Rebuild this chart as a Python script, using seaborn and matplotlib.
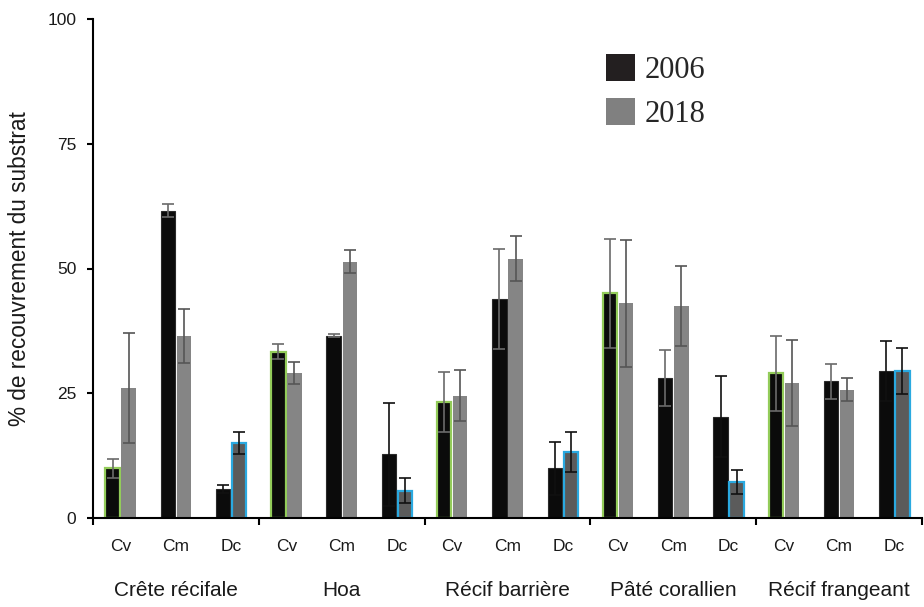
import matplotlib
matplotlib.use("Agg")
import matplotlib.pyplot as plt
from matplotlib.patches import Patch
import matplotlib.transforms as mtransforms
import numpy as np
import pandas as pd
import seaborn as sns

# Reef zones and benthic categories
sites = ["Crête récifale", "Hoa", "Récif barrière", "Pâté corallien", "Récif frangeant"]
categories = ["Cv", "Cm", "Dc"]
years = ["2006", "2018"]

# Mean substrate cover (%) per zone / category, and its error
cover_2006 = [10.0, 61.6, 5.8, 33.3, 36.5, 12.8, 23.2, 43.9, 10.0, 45.0, 28.1, 20.3, 29.0, 27.4, 29.5]
err_2006 = [1.9, 1.3, 0.8, 1.5, 0.3, 10.3, 6.0, 10.1, 5.3, 11.0, 5.6, 8.1, 7.5, 3.5, 6.0]
cover_2018 = [26.0, 36.5, 15.1, 29.0, 51.4, 5.5, 24.5, 52.0, 13.3, 43.0, 42.5, 7.2, 27.0, 25.7, 29.4]
err_2018 = [11.0, 5.4, 2.2, 2.2, 2.4, 2.5, 5.1, 4.5, 4.0, 12.8, 8.0, 2.4, 8.6, 2.3, 4.6]

y_ticks = [0, 25, 50, 75, 100]
y_label = "% de recouvrement du substrat"

# Long table for seaborn
keys = [f"{s}|{c}" for s in sites for c in categories]
df = pd.DataFrame({
    "key": keys * 2,
    "cover": cover_2006 + cover_2018,
    "year": [years[0]] * len(keys) + [years[1]] * len(keys),
})

sns.set_style("ticks")
plt.rcParams["font.family"] = ["Liberation Sans", "DejaVu Sans"]

palette = {"2006": "#0b0b0b", "2018": "#858585"}

fig = plt.figure(figsize=(9.24, 6.07), dpi=100)
ax = fig.add_axes([93 / 924, 89 / 607, 829 / 924, 499 / 607])

sns.barplot(data=df, x="key", y="cover", hue="year", order=keys,
            hue_order=years, palette=palette, width=0.58, gap=0.1,
            errorbar=None, legend=False, ax=ax, saturation=1,
            edgecolor="none", linewidth=0)

bars_2006 = ax.containers[0]
bars_2018 = ax.containers[1]

# Highlight outlines: Cv 2006 in green, Dc 2018 darker fill with blue outline
for i, bar in enumerate(bars_2006):
    cat = categories[i % 3]
    if cat == "Cv":
        bar.set_edgecolor("#93cc5a")
        bar.set_linewidth(1.6)
    else:
        bar.set_edgecolor("#2a2a2a")
        bar.set_linewidth(0.8)
for i, bar in enumerate(bars_2018):
    cat = categories[i % 3]
    if cat == "Dc":
        bar.set_facecolor("#5b5b5b")
        bar.set_edgecolor("#2aa9e0")
        bar.set_linewidth(1.6)

# Error bars at the bar centres
for bars, vals, errs, year in [(bars_2006, cover_2006, err_2006, "2006"),
                               (bars_2018, cover_2018, err_2018, "2018")]:
    for i, (bar, v, e) in enumerate(zip(bars, vals, errs)):
        cat = categories[i % 3]
        if cat == "Dc":
            col = "#111111"
        else:
            col = "#6a6a6a" if year == "2006" else "#555555"
        xc = bar.get_x() + bar.get_width() / 2
        ax.errorbar(xc, v, yerr=e, fmt="none", ecolor=col, elinewidth=1.2,
                    capsize=4.5, capthick=1.2, zorder=4)

# Axes styling
ax.set_xlim(-0.5, len(keys) - 0.5)
ax.set_ylim(0, 100)
ax.set_yticks(y_ticks)
ax.set_yticklabels([str(t) for t in y_ticks])
ax.set_ylabel(y_label, fontsize=16.3, labelpad=12, color="#1a1a1a")
ax.set_xlabel("")
sns.despine(ax=ax)
for side in ["left", "bottom"]:
    ax.spines[side].set_linewidth(1.5)
    ax.spines[side].set_color("black")
ax.tick_params(axis="y", direction="out", length=4, width=1.5, pad=8,
               colors="black", labelcolor="#1a1a1a", labelsize=12.5)

# Category labels under each pair, separators between zones
ax.set_xticks(np.arange(-0.5, len(keys), 3))
ax.set_xticklabels([])
ax.tick_params(axis="x", which="major", direction="out", length=5, width=1.5,
               colors="black")
ax.set_xticks(np.arange(len(keys)), minor=True)
ax.set_xticklabels([k.split("|")[1] for k in keys], minor=True)
ax.tick_params(axis="x", which="minor", length=0, pad=15, labelsize=12.5,
               labelcolor="#1a1a1a")

trans = mtransforms.blended_transform_factory(ax.transData, ax.transAxes)
for g, site in enumerate(sites):
    ax.text(g * 3 + 1, -0.146, site, transform=trans, ha="center", va="center",
            fontsize=15, color="#1a1a1a")

# Legend
handles = [Patch(facecolor="#231f20", edgecolor="none"),
           Patch(facecolor="#808080", edgecolor="none")]
fig.legend(handles, years, loc="upper left",
           bbox_to_anchor=(606 / 924, 1 - 54 / 607),
           bbox_transform=fig.transFigure, frameon=False,
           prop={"family": "Liberation Serif", "size": 22},
           handlelength=0.95, handleheight=1.0, handletextpad=0.3,
           labelspacing=0.42, borderpad=0, borderaxespad=0)

fig.savefig("out.png", dpi=100, facecolor="white")
